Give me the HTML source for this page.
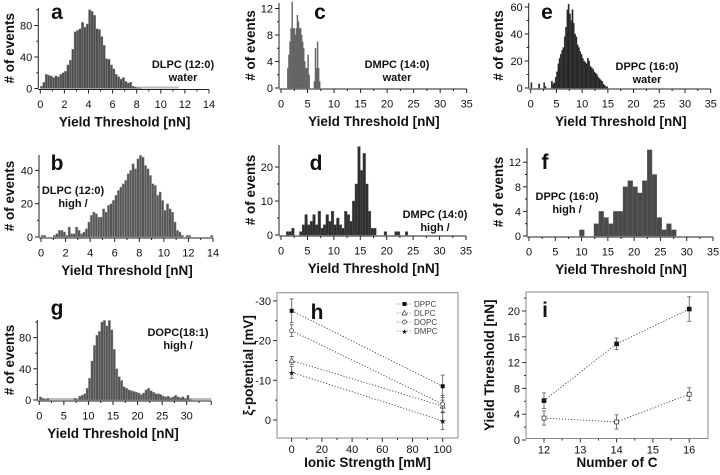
<!DOCTYPE html>
<html><head><meta charset="utf-8">
<style>
html,body{margin:0;padding:0;background:#fff;}
svg{display:block;font-family:"Liberation Sans",sans-serif;}
</style></head>
<body>
<svg id="fig" width="720" height="475" viewBox="0 0 720 475" xmlns="http://www.w3.org/2000/svg"></svg>
<script>
// ---------- DATA ----------
const aStart = 0, aWidth = 0.2;
const aCounts = [3,8,18,17,16,14,16,15,18,20,22,30,36,50,72,74,76,84,78,82,100,98,93,76,75,66,55,38,37,30,25,18,15,12,14,9,7,8,3,2,1,1];
const bStart = 0, bWidth = 0.2;
const bCounts = [1,1,0,0,0,1,2,4,4,3,1,6,2,2,6,4,2,3,5,9,13,15,14,12,12,17,15,19,20,22,25,28,30,32,34,38,40,44,41,47,49,48,43,41,37,32,31,25,27,22,16,20,17,15,9,4,3,1,0,1,1,0,0,0,0,0,0,0,0,1];
const cStart = 1.2, cWidth = 0.2;
const cCounts = [3,5,7,9,13,9,9,8,9,11,10,9,9,8,7,6,4,3,3,5,2,0,0,0,0,1,6,3,7,3,1];
const dStart = 1.0, dWidth = 0.5;
const dCounts = [1,1,2,0,0,1,3,6,3,4,6,3,7,2,3,6,4,7,3,5,3,2,7,6,4,10,15,26,19,24,15,7,2,2,0,0,0,1,0,0,0,1,1,0,0,1];
const eStart = 0, eWidth = 0.25;
const eCounts = [4,0,0,0,0,0,3,0,0,0,4,1,0,0,0,0,5,3,4,8,12,18,22,25,28,30,38,45,58,62,55,50,58,48,40,38,32,30,27,25,22,20,19,18,22,20,16,15,14,12,11,10,8,7,6,5,3,2,1,1];
const fStart = 9.6, fWidth = 0.92;
const fCounts = [1,0,0,2,4,3,2,4,4,8,9,8,7,9,14,10,3,1,2,1];
const gStart = 0, gWidth = 0.5;
const gCounts = [4,2,1,2,0,0,0,0,0,0,0,0,0,0,2,1,5,6,8,15,28,50,70,83,88,100,102,95,102,90,65,40,30,25,17,15,13,12,11,10,9,7,9,13,15,12,10,8,8,7,5,4,5,3,4,6,4,3,4,2,6,1];
// panel h: zeta potential
const hIonic = [0,100];
const hSeries = ["DPPC","DLPC","DOPC","DMPC"];
const hDPPC = [-27.5,-8.5], hDPPCerr = [3,2.8];
const hDLPC = [-15,-3.5], hDLPCerr = [1,1.5];
const hDOPC = [-22.5,-4], hDOPCerr = [1.5,2.2];
const hDMPC = [-12,0.2], hDMPCerr = [1.5,2.2];
// panel i
const iCarbons = [12,14,16];
const iHigh = [6.1,14.9,20.3], iHighErr = [1.2,0.9,1.9];
const iWater = [3.4,2.8,7.1], iWaterErr = [1.1,1.1,1.0];

// ---------- HELPERS ----------
const svg = document.getElementById('fig');
const NS = 'http://www.w3.org/2000/svg';
function el(tag, attrs, parent){const e=document.createElementNS(NS,tag);for(const k in attrs)e.setAttribute(k,attrs[k]);(parent||svg).appendChild(e);return e;}
function txt(s, x, y, size, weight, anchor, parent, rot){
  const t=el('text',{x:x,y:y,'font-size':size,'font-weight':weight||'normal','text-anchor':anchor||'middle',fill:'#111'},parent);
  if(rot) t.setAttribute('transform','rotate(-90 '+x+' '+y+')');
  t.textContent=s;return t;
}
function group(name){const g=el('g',{});return g;}

function hist(P, start, width, counts){
  const g = group(P.name);
  const sx = v => P.x0 + (v - 0)*(P.x1-P.x0)/P.xmaxLab;
  const sy = v => P.base - v*P.ppu;
  // baseline gray band
  if(P.band){const r=el('rect',{x:sx(P.band[0]),y:P.base-2,width:sx(P.band[1])-sx(P.band[0]),height:2,fill:'#bbb'},g);
    }
  for(let i=0;i<counts.length;i++){
    if(counts[i]<=0) continue;
    const x=sx(start+i*width), w=sx(start+(i+1)*width)-x;
    const r=el('rect',{x:x,y:sy(counts[i]),width:Math.max(w,0.5),height:counts[i]*P.ppu,fill:P.fill,stroke:P.stroke,'stroke-width':0.4},g);
    
    
  }
  const ax = P.x0-2;
  el('line',{x1:ax,y1:P.base,x2:ax,y2:P.top,stroke:'#222','stroke-width':1},g);
  el('line',{x1:ax,y1:P.base+1,x2:sx(P.xend),y2:P.base+1,stroke:'#222','stroke-width':1},g);
  for(let v=0; v<=P.ymaxTick+1e-9; v+=P.ystep/2){
    const major = Math.abs(v/P.ystep - Math.round(v/P.ystep))<1e-6;
    el('line',{x1:ax-(major?4:2),y1:sy(v),x2:ax,y2:sy(v),stroke:'#222','stroke-width':1},g);
    if(major){const t=txt(String(Math.round(v)),ax-6,sy(v)+4,11,'normal','end',g);
      }
  }
  for(let v=0; v<=P.xend+1e-9; v+=P.xstep/2){
    const major = Math.abs(v/P.xstep - Math.round(v/P.xstep))<1e-6;
    el('line',{x1:sx(v),y1:P.base+1,x2:sx(v),y2:P.base+(major?5:3),stroke:'#222','stroke-width':1},g);
    if(major && v<=P.xmaxLab+1e-9){const t=txt(String(Math.round(v)),sx(v),P.base+19.5,11,'normal','middle',g);
      }
  }
  const xt=txt('Yield Threshold [nN]',(P.x0+P.x1)/2,P.base+38,13.5,'bold','middle',g);
  
  const yt=txt('# of events',P.ytx,(P.base+P.top)/2,13.5,'bold','middle',g,true);
  
  const lt=txt(P.letter,P.lx,P.ly,21,'bold','middle',g);
  
  const a1=txt(P.ann[0],P.ax,P.ay,11,'bold','middle',g);
  
  const a2=txt(P.ann[1],P.ax,P.ay+13,11,'bold','middle',g);
  
}

hist({name:'panel-a',x0:40.3,x1:209,xmaxLab:14,xend:14,xstep:2,base:88.5,ppu:0.7875,top:8,ymaxTick:100,ystep:40,fill:'#4d4d4d',stroke:'#9a9a9a',band:[8,11.5],ytx:14,letter:'a',lx:57,ly:19,ann:['DLPC (12:0)','water'],ax:183,ay:68}, aStart,aWidth,aCounts);
hist({name:'panel-b',x0:41,x1:213,xmaxLab:14,xend:14,xstep:2,base:237,ppu:1.665,top:155,ymaxTick:40,ystep:20,fill:'#555',stroke:'#aaa',ytx:14,letter:'b',lx:57,ly:170,ann:['DLPC (12:0)','high /'],ax:73,ay:194}, bStart,bWidth,bCounts);
hist({name:'panel-c',x0:281,x1:466.7,xmaxLab:35,xend:35,xstep:5,base:88,ppu:6.625,top:3,ymaxTick:12,ystep:4,fill:'#555',stroke:'#777',ytx:255,letter:'c',lx:320,ly:19,ann:['DMPC (14:0)','water'],ax:397,ay:68}, cStart,cWidth,cCounts);
hist({name:'panel-d',x0:281,x1:466,xmaxLab:35,xend:35,xstep:5,base:235,ppu:3.4,top:145,ymaxTick:20,ystep:10,fill:'#2e2e2e',stroke:'#555',ytx:255,letter:'d',lx:316,ly:170,ann:['DMPC (14:0)','high /'],ax:435,ay:218}, dStart,dWidth,dCounts);
hist({name:'panel-e',x0:530.7,x1:710.7,xmaxLab:35,xend:35,xstep:5,base:88,ppu:1.35,top:3,ymaxTick:60,ystep:20,fill:'#1e1e1e',stroke:'#444',ytx:503,letter:'e',lx:547,ly:19,ann:['DPPC (16:0)','water'],ax:647,ay:70}, eStart,eWidth,eCounts);
hist({name:'panel-f',x0:529,x1:713,xmaxLab:35,xend:35,xstep:5,base:236,ppu:6.15,top:148,ymaxTick:12,ystep:4,fill:'#4a4a4a',stroke:'#666',ytx:503,letter:'f',lx:545,ly:169,ann:['DPPC (16:0)','high /'],ax:567,ay:200}, fStart,fWidth,fCounts);
hist({name:'panel-g',x0:39.3,x1:186.7,xmaxLab:30,xend:35,xstep:5,base:400,ppu:0.78,top:320,ymaxTick:100,ystep:40,fill:'#555',stroke:'#9a9a9a',band:[0,35],ytx:14,letter:'g',lx:57,ly:315,ann:['DOPC(18:1)','high /'],ax:178,ay:336}, gStart,gWidth,gCounts);

// ---------- PANEL H ----------
(function(){
  const g = group('panel-h');
  const L=277,R=458,T=292.7,B=438;
  const sx = v => 291.7 + v*1.51;
  const sy = v => 420 + v*3.97;
  el('rect',{x:L,y:T,width:R-L,height:B-T,fill:'none',stroke:'#888','stroke-width':1},g);
  for(let v=-30; v<=0; v+=5){
    const major = v%10===0;
    el('line',{x1:L-(major?4:2),y1:sy(v),x2:L,y2:sy(v),stroke:'#333'},g);
    if(major){const t=txt(String(v),L-6,sy(v)+4,11,'normal','end',g);}
  }
  for(let v=0; v<=100; v+=10){
    const major = v%20===0;
    el('line',{x1:sx(v),y1:B,x2:sx(v),y2:B+(major?4:2),stroke:'#333'},g);
    if(major){const t=txt(String(v),sx(v),B+15,11,'normal','middle',g);}
  }
  const series=[[hDPPC,hDPPCerr,'sq'],[hDLPC,hDLPCerr,'tri'],[hDOPC,hDOPCerr,'circ'],[hDMPC,hDMPCerr,'star']];
  function marker(kind,x,y,par){
    if(kind==='sq') return el('rect',{x:x-2,y:y-2,width:4,height:4,fill:'#111'},par);
    if(kind==='tri') return el('path',{d:`M${x},${y-2.5}L${x+2.5},${y+2}L${x-2.5},${y+2}Z`,fill:'#fff',stroke:'#333','stroke-width':0.7},par);
    if(kind==='circ') return el('circle',{cx:x,cy:y,r:2,fill:'#fff',stroke:'#333','stroke-width':0.7},par);
    return el('text',{x:x,y:y+3,'font-size':8,'text-anchor':'middle',fill:'#111'},par);
  }
  series.forEach((s,k)=>{
    const vals=s[0],errs=s[1];
    const sg=el('g',{},g);
    
    
    el('line',{x1:sx(hIonic[0]),y1:sy(vals[0]),x2:sx(hIonic[1]),y2:sy(vals[1]),stroke:'#444','stroke-width':0.9,'stroke-dasharray':'1.2,1.8'},sg);
    for(let i=0;i<vals.length;i++){
      const x=sx(hIonic[i]),y1=sy(vals[i]-errs[i]),y2=sy(vals[i]+errs[i]);
      el('line',{x1:x,y1:y1,x2:x,y2:y2,stroke:'#555','stroke-width':0.8},sg);
      el('line',{x1:x-2,y1:y1,x2:x+2,y2:y1,stroke:'#555','stroke-width':0.8},sg);
      el('line',{x1:x-2,y1:y2,x2:x+2,y2:y2,stroke:'#555','stroke-width':0.8},sg);
      const m=marker(s[2],x,sy(vals[i]),sg); if(s[2]==='star') m.textContent='★';
    }
    // legend
    const ly=304+k*9;
    const lg=el('g',{},g);
    
    
    el('line',{x1:397,y1:ly,x2:412,y2:ly,stroke:'#555','stroke-width':0.8,'stroke-dasharray':'1,1.5'},lg);
    const m=marker(s[2],404.5,ly,lg); if(s[2]==='star'){m.textContent='★';m.setAttribute('font-size',7);}
    const t=el('text',{x:414,y:ly+3,'font-size':8,fill:'#444'},lg); t.textContent=hSeries[k];
  });
  const xt=txt('Ionic Strength [mM]',(L+R)/2,467,13.5,'bold','middle',g);
  const yt=txt('ξ-potential [mV]',253,(T+B)/2,13.5,'bold','middle',g,true);
  const lt=txt('h',317,319,21,'bold','middle',g);
})();

// ---------- PANEL I ----------
(function(){
  const g = group('panel-i');
  const L=526,R=708,T=292,B=438.5;
  const sx = v => 544 + (v-12)*36.3;
  const sy = v => 440 - v*6.45;
  el('rect',{x:L,y:T,width:R-L,height:B-T,fill:'none',stroke:'#888','stroke-width':1},g);
  for(let v=0; v<=22; v+=2){
    const major = v%4===0;
    el('line',{x1:L-(major?4:2),y1:sy(v),x2:L,y2:sy(v),stroke:'#333'},g);
    if(major){const t=txt(String(v),L-6,sy(v)+4,11,'normal','end',g);}
  }
  for(let v=12; v<=16; v+=0.5){
    const major = Number.isInteger(v);
    el('line',{x1:sx(v),y1:B,x2:sx(v),y2:B+(major?4:2),stroke:'#333'},g);
    if(major){const t=txt(String(v),sx(v),B+15,11,'normal','middle',g);}
  }
  [[iHigh,iHighErr,'#111','series-high-salt'],[iWater,iWaterErr,'#fff','series-water']].forEach(s=>{
    const sg=el('g',{},g);
    
    
    const pts=iCarbons.map((c,i)=>sx(c)+','+sy(s[0][i])).join(' ');
    el('polyline',{points:pts,fill:'none',stroke:'#444','stroke-width':0.9,'stroke-dasharray':'1.2,1.8'},sg);
    iCarbons.forEach((c,i)=>{
      const x=sx(c),y1=sy(s[0][i]-s[1][i]),y2=sy(s[0][i]+s[1][i]);
      el('line',{x1:x,y1:y1,x2:x,y2:y2,stroke:'#555','stroke-width':0.8},sg);
      el('line',{x1:x-2,y1:y1,x2:x+2,y2:y1,stroke:'#555','stroke-width':0.8},sg);
      el('line',{x1:x-2,y1:y2,x2:x+2,y2:y2,stroke:'#555','stroke-width':0.8},sg);
      el('rect',{x:x-2,y:sy(s[0][i])-2,width:4,height:4,fill:s[2],stroke:'#222','stroke-width':0.7},sg);
    });
  });
  const xt=txt('Number of C',(L+R)/2,467,13.5,'bold','middle',g);
  const yt=txt('Yield Threshold [nN]',494,(T+B)/2,13.5,'bold','middle',g,true);
  const lt=txt('i',545,317,21,'bold','middle',g);
})();
</script>
</body></html>
